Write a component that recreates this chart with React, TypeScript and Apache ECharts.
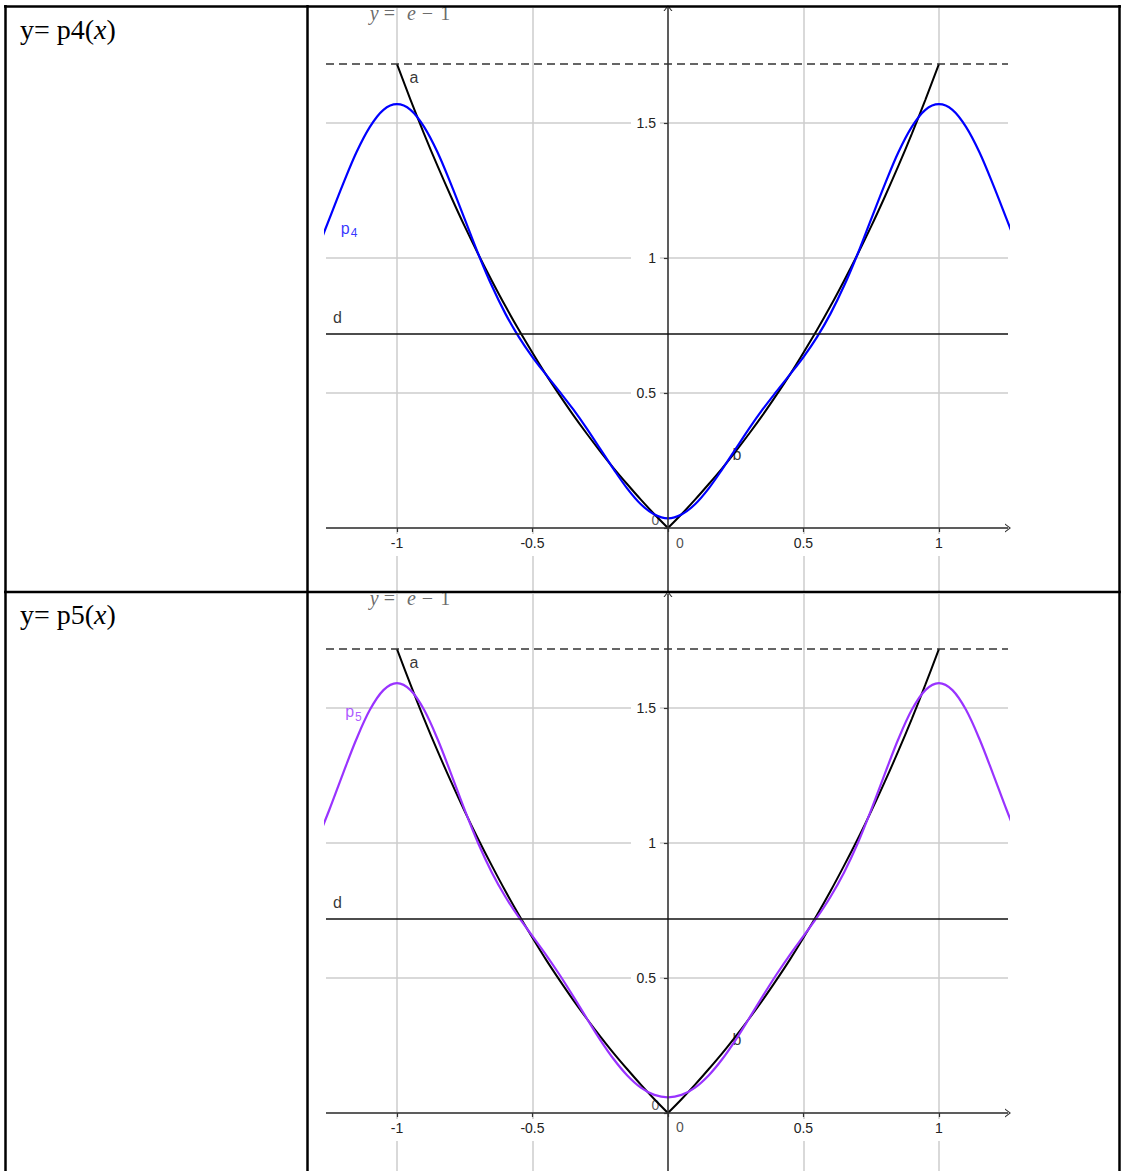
import { useEffect, useRef } from 'react';
import * as echarts from 'echarts';

// Abscissae at which the approximating polynomials are sampled
const sampleX = [
  -1.3, -1.25, -1.2, -1.15, -1.1, -1.05, -1, -0.95, -0.9, -0.85, -0.8, -0.75, -0.7, -0.65, -0.6, -0.55,
  -0.5, -0.45, -0.4, -0.35, -0.3, -0.25, -0.2, -0.15, -0.1, -0.05, 0, 0.05, 0.1, 0.15, 0.2, 0.25, 0.3,
  0.35, 0.4, 0.45, 0.5, 0.55, 0.6, 0.65, 0.7, 0.75, 0.8, 0.85, 0.9, 0.95, 1, 1.05, 1.1, 1.15, 1.2, 1.25, 1.3,
];

// p4 values at sampleX
const p4Values = [
  1.015, 1.144, 1.272, 1.391, 1.486, 1.549, 1.57, 1.549, 1.486, 1.391, 1.272, 1.144, 1.015, 0.897, 0.794,
  0.707, 0.633, 0.568, 0.505, 0.44, 0.369, 0.293, 0.217, 0.146, 0.088, 0.05, 0.036, 0.05, 0.088, 0.146,
  0.217, 0.293, 0.369, 0.44, 0.505, 0.568, 0.633, 0.707, 0.794, 0.897, 1.015, 1.144, 1.272, 1.391, 1.486,
  1.549, 1.57, 1.549, 1.486, 1.391, 1.272, 1.144, 1.015,
];

// p5 values at sampleX
const p5Values = [
  0.998, 1.122, 1.255, 1.384, 1.493, 1.566, 1.592, 1.566, 1.493, 1.384, 1.255, 1.122, 0.998, 0.891, 0.801,
  0.724, 0.655, 0.586, 0.512, 0.433, 0.351, 0.271, 0.199, 0.139, 0.094, 0.067, 0.058, 0.067, 0.094, 0.139,
  0.199, 0.271, 0.351, 0.433, 0.512, 0.586, 0.655, 0.724, 0.801, 0.891, 0.998, 1.122, 1.255, 1.384, 1.493,
  1.566, 1.592, 1.566, 1.493, 1.384, 1.255, 1.122, 0.998,
];

// Branch a (x <= 0) of the target curve
const aX = [
  -1, -0.95, -0.9, -0.85, -0.8, -0.75, -0.7, -0.65, -0.6, -0.55, -0.5, -0.45, -0.4, -0.35, -0.3, -0.25, -0.2,
  -0.15, -0.1, -0.05, 0,
];
const aValues = [
  1.718, 1.586, 1.46, 1.34, 1.226, 1.117, 1.014, 0.916, 0.822, 0.733, 0.649, 0.568, 0.492, 0.419, 0.35,
  0.284, 0.221, 0.162, 0.105, 0.051, 0,
];

// Branch b (x >= 0) of the target curve
const bX = [
  0, 0.05, 0.1, 0.15, 0.2, 0.25, 0.3, 0.35, 0.4, 0.45, 0.5, 0.55, 0.6, 0.65, 0.7, 0.75, 0.8, 0.85, 0.9, 0.95, 1,
];
const bValues = [
  0, 0.051, 0.105, 0.162, 0.221, 0.284, 0.35, 0.419, 0.492, 0.568, 0.649, 0.733, 0.822, 0.916, 1.014, 1.117,
  1.226, 1.34, 1.46, 1.586, 1.718,
];

// Horizontal reference levels: d and the dashed line y = e − 1
const dLevel = 0.718;
const upperLevel = 1.718;

// Axis ticks and labels
const xTickValues = [-1, -0.5, 0, 0.5, 1];
const xLabelValues = [-1, -0.5, 0.5, 1];
const yTickValues = [0, 0.5, 1, 1.5];
const yLabelValues = [0.5, 1, 1.5];
const xRange = [-1.262, 1.255];

const SANS = "'Liberation Sans', Arial, sans-serif";
const SERIF = "'Liberation Serif', 'Times New Roman', serif";
const GRID_COLOR = '#cdcdcd';
const AXIS_COLOR = '#333333';
const TEXT_COLOR = '#222222';
const EQN_COLOR = '#444444';
const ARROW = 'path://M0,10 L5,0 L10,10 L8.6,10 L5,2.8 L1.4,10 Z';

const GRID_LEFT = 326;
const GRID_WIDTH = 682;

type Panel = {
  sub: string;
  values: number[];
  color: string;
  yRange: number[];
  top: number;
  height: number;
  nameAt: number[];
};

const panels: Panel[] = [
  { sub: '4', values: p4Values, color: '#0000ff', yRange: [-0.237, 1.926], top: 8, height: 584, nameAt: [-1.177, 1.104] },
  { sub: '5', values: p5Values, color: '#9933ff', yRange: [-0.2148, 1.922], top: 594, height: 577, nameAt: [-1.1605, 1.48] },
];

// Anchors (data coordinates) of the text labels inside each panel
const labelAnchors = {
  eqn: [-0.952, 1.907],
  a: [-0.937, 1.669],
  d: [-1.2196, 0.778],
  b: [0.2546, 0.274],
  originMark: [-0.046, 0.028],
  xZero: [0.0443, -0.0537],
};

function pairs(xs: number[], ys: number[]) {
  return xs.map((x, k) => [x, ys[k]]);
}

function textItem(at: number[], formatter: string, extra: any = {}) {
  return {
    value: at,
    label: {
      show: true,
      position: 'inside',
      formatter,
      color: '#000',
      fontSize: 16,
      fontFamily: SANS,
      ...extra,
    },
  };
}

function buildOption() {
  const grid: any[] = [];
  const xAxis: any[] = [];
  const yAxis: any[] = [];
  const series: any[] = [];

  panels.forEach((p, i) => {
    // Shift the axes from the grid border to the origin
    const xAxisShift = -(p.height * (0 - p.yRange[0])) / (p.yRange[1] - p.yRange[0]);
    const yAxisShift = -(GRID_WIDTH * (0 - xRange[0])) / (xRange[1] - xRange[0]);

    grid.push({ left: GRID_LEFT, width: GRID_WIDTH, top: p.top, height: p.height, containLabel: false, outerBoundsMode: 'none' });
    xAxis.push({
      type: 'value',
      gridIndex: i,
      position: 'bottom',
      offset: xAxisShift,
      min: xRange[0],
      max: xRange[1],
      minInterval: 0.5,
      maxInterval: 0.5,
      axisLine: { show: false, onZero: false },
      axisTick: { show: true, customValues: xTickValues, length: 4, lineStyle: { color: AXIS_COLOR, width: 1.2 } },
      axisLabel: {
        show: true,
        customValues: xLabelValues,
        showMinLabel: true,
        showMaxLabel: true,
        margin: 6,
        color: TEXT_COLOR,
        fontSize: 14,
        fontFamily: SANS,
        backgroundColor: '#fff',
        padding: [2, 3, 6, 3],
      },
      splitLine: { show: true, showMinLine: true, showMaxLine: true, lineStyle: { color: GRID_COLOR, width: 1.5 } },
    });
    yAxis.push({
      type: 'value',
      gridIndex: i,
      position: 'left',
      offset: yAxisShift,
      min: p.yRange[0],
      max: p.yRange[1],
      minInterval: 0.5,
      maxInterval: 0.5,
      axisLine: { show: false, onZero: false },
      axisTick: { show: true, customValues: yTickValues, length: 4, lineStyle: { color: AXIS_COLOR, width: 1.2 } },
      axisLabel: {
        show: true,
        customValues: yLabelValues,
        showMinLabel: true,
        showMaxLabel: true,
        margin: 8,
        align: 'right',
        width: 22,
        color: TEXT_COLOR,
        fontSize: 14,
        fontFamily: SANS,
        backgroundColor: '#fff',
        padding: [2, 4, 2, 3],
      },
      splitLine: { show: true, showMinLine: true, showMaxLine: true, lineStyle: { color: GRID_COLOR, width: 1.5 } },
    });

    // Coordinate axes with open arrow heads
    series.push({
      type: 'line',
      xAxisIndex: i,
      yAxisIndex: i,
      data: [],
      z: 1,
      silent: true,
      markLine: {
        silent: true,
        animation: false,
        symbol: ['none', ARROW],
        symbolSize: [9, 6],
        label: { show: false },
        emphasis: { disabled: true },
        lineStyle: { color: AXIS_COLOR, width: 1.5, type: 'solid' },
        data: [{ yAxis: 0 }, { xAxis: 0 }],
      },
    });

    // Reference levels d and y = e − 1
    series.push({
      type: 'line',
      xAxisIndex: i,
      yAxisIndex: i,
      data: [],
      z: 1,
      silent: true,
      markLine: {
        silent: true,
        animation: false,
        symbol: ['none', 'none'],
        label: { show: false },
        emphasis: { disabled: true },
        data: [
          { yAxis: dLevel, lineStyle: { color: '#111', width: 1.6, type: 'solid' } },
          { yAxis: upperLevel, lineStyle: { color: '#333', width: 1.6, type: [8, 5] } },
        ],
      },
    });

    // Annotation texts
    series.push({
      type: 'scatter',
      xAxisIndex: i,
      yAxisIndex: i,
      symbol: 'circle',
      symbolSize: 1,
      itemStyle: { color: 'transparent' },
      silent: true,
      z: 2,
      data: [
        textItem(labelAnchors.eqn, '{i|y}{op|=}{i|e}{op2|−}{n|1}', {
          color: EQN_COLOR,
          rich: {
            i: { fontFamily: SERIF, fontStyle: 'italic', fontSize: 20, color: EQN_COLOR },
            op: { fontFamily: SERIF, fontSize: 20, color: EQN_COLOR, padding: [0, 12, 0, 5] },
            op2: { fontFamily: SERIF, fontSize: 20, color: EQN_COLOR, padding: [0, 7, 0, 6] },
            n: { fontFamily: SERIF, fontSize: 20, color: EQN_COLOR },
          },
        }),
        textItem(labelAnchors.a, 'a'),
        textItem(labelAnchors.d, 'd'),
        textItem(labelAnchors.b, 'b'),
        textItem(labelAnchors.originMark, '0', { color: '#333', fontSize: 14 }),
        textItem(labelAnchors.xZero, '0', { color: TEXT_COLOR, fontSize: 14 }),
        textItem(p.nameAt, `{p|p}{s|${p.sub}}`, {
          rich: {
            p: { color: p.color, fontSize: 16, fontFamily: SANS, verticalAlign: 'top' },
            s: { color: p.color, fontSize: 12, fontFamily: SANS, verticalAlign: 'top', padding: [7, 0, 0, 1] },
          },
        }),
      ],
    });

    // Target curve: branches a and b
    series.push({
      type: 'line',
      name: 'a',
      xAxisIndex: i,
      yAxisIndex: i,
      data: pairs(aX, aValues),
      smooth: 0.33,
      showSymbol: false,
      symbol: 'none',
      silent: true,
      z: 3,
      lineStyle: { color: '#000', width: 2 },
    });
    series.push({
      type: 'line',
      name: 'b',
      xAxisIndex: i,
      yAxisIndex: i,
      data: pairs(bX, bValues),
      smooth: 0.33,
      showSymbol: false,
      symbol: 'none',
      silent: true,
      z: 3,
      lineStyle: { color: '#000', width: 2 },
    });

    // Approximating polynomial
    series.push({
      type: 'line',
      name: 'p' + p.sub,
      xAxisIndex: i,
      yAxisIndex: i,
      data: pairs(sampleX, p.values),
      smooth: 0.33,
      clip: true,
      showSymbol: false,
      symbol: 'none',
      silent: true,
      z: 4,
      lineStyle: { color: p.color, width: 2.2 },
    });
  });

  const border = { stroke: '#000', lineWidth: 2.5 };
  const rowLabel = (y: number, sub: string) => ({
    type: 'text',
    z: 102,
    x: 20,
    y,
    style: {
      text: `{r|y= p${sub}(}{i|x}{r|)}`,
      verticalAlign: 'middle',
      rich: {
        r: { fontFamily: SERIF, fontSize: 28, fill: '#000' },
        i: { fontFamily: SERIF, fontSize: 28, fontStyle: 'italic', fill: '#000' },
      },
    },
  });

  const graphic = [
    { type: 'rect', z: 100, shape: { x: 0, y: 0, width: 1121, height: 5.5 }, style: { fill: '#fff' } },
    { type: 'line', z: 101, shape: { x1: 4, y1: 6.5, x2: 1121, y2: 6.5 }, style: border },
    { type: 'line', z: 101, shape: { x1: 5.5, y1: 5, x2: 5.5, y2: 1171 }, style: border },
    { type: 'line', z: 101, shape: { x1: 307.5, y1: 5, x2: 307.5, y2: 1171 }, style: border },
    { type: 'line', z: 101, shape: { x1: 1119.5, y1: 5, x2: 1119.5, y2: 1171 }, style: border },
    { type: 'line', z: 101, shape: { x1: 4, y1: 592, x2: 1121, y2: 592 }, style: border },
    rowLabel(29, '4'),
    rowLabel(614, '5'),
  ];

  return {
    animation: false,
    backgroundColor: '#fff',
    grid,
    xAxis,
    yAxis,
    series,
    graphic,
  };
}

export default function App() {
  const ref = useRef<HTMLDivElement>(null);
  useEffect(() => {
    if (!ref.current) return;
    const chart = echarts.init(ref.current, null, { renderer: 'svg' });
    chart.setOption(buildOption() as any);
    return () => chart.dispose();
  }, []);
  return (
    <div
      ref={ref}
      style={{ position: 'absolute', left: 0, top: 0, width: 1121, height: 1171, background: '#fff' }}
    />
  );
}
